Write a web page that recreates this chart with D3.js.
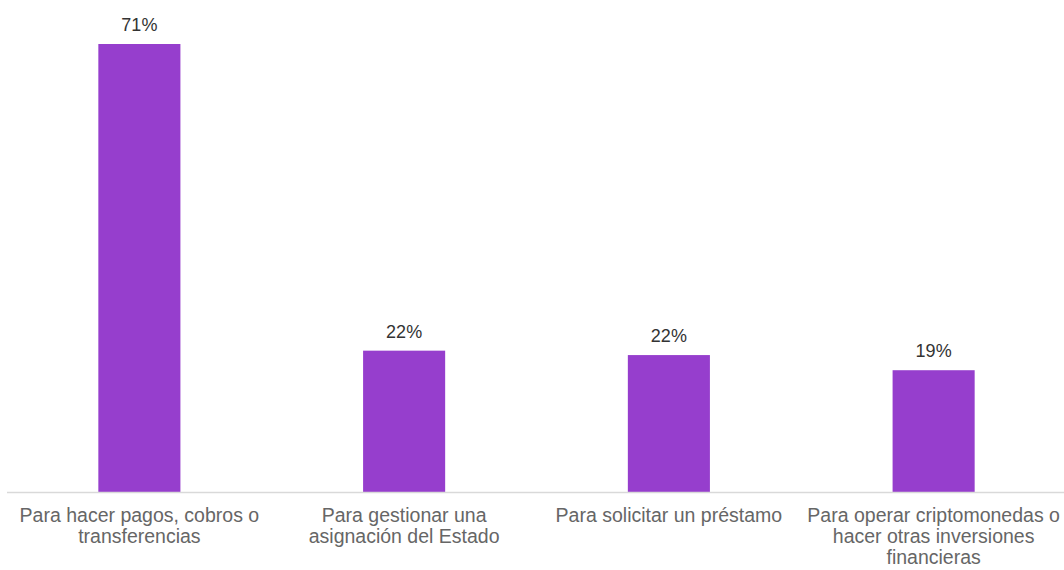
<!DOCTYPE html>
<html>
<head>
<meta charset="utf-8">
<script src="https://cdn.jsdelivr.net/npm/d3@7"></script>
<style>
  html, body { margin: 0; padding: 0; background: #fff; }
  svg { display: block; font-family: "Liberation Sans", Arial, Helvetica, sans-serif; }
</style>
</head>
<body>
<svg id="chart" width="1064" height="570"></svg>
<script>
// Usos declarados (porcentaje de encuestados)
const categories = [
  "Para hacer pagos, cobros o|transferencias",
  "Para gestionar una|asignación del Estado",
  "Para solicitar un préstamo",
  "Para operar criptomonedas o|hacer otras inversiones|financieras"
];
const values = [71, 22.4, 21.7, 19.3];

const width = 1064, height = 570;
const margin = { top: 44, right: -2, bottom: 78, left: 7 };
const baseY = height - margin.bottom;

const svg = d3.select("#chart");

const x = d3.scaleBand()
  .domain(categories)
  .range([margin.left, width - margin.right])
  .paddingInner(0.69)
  .paddingOuter(0.345);

const y = d3.scaleLinear()
  .domain([0, 71])
  .range([baseY, margin.top]);

// Barras
svg.append("g")
  .selectAll("rect")
  .data(values)
  .join("rect")
  .attr("x", (d, i) => x(categories[i]))
  .attr("y", d => y(d))
  .attr("width", x.bandwidth())
  .attr("height", d => y(0) - y(d))
  .attr("fill", "#963ecd");

// Línea base
svg.append("line")
  .attr("x1", margin.left)
  .attr("x2", width)
  .attr("y1", y(0) + 0.5)
  .attr("y2", y(0) + 0.5)
  .attr("stroke", "#d9d9d9")
  .attr("stroke-width", 1.5);

// Etiquetas de valor
svg.append("g")
  .selectAll("text")
  .data(values)
  .join("text")
  .attr("x", (d, i) => x(categories[i]) + x.bandwidth() / 2)
  .attr("y", d => y(d) - 13)
  .attr("text-anchor", "middle")
  .attr("font-size", 18)
  .attr("fill", "#333")
  .text(d => Math.round(d) + "%");

// Etiquetas de categoría (multilínea)
const cat = svg.append("g")
  .selectAll("text")
  .data(categories)
  .join("text")
  .attr("x", d => x(d) + x.bandwidth() / 2)
  .attr("y", baseY + 30)
  .attr("text-anchor", "middle")
  .attr("font-size", 19.5)
  .attr("fill", "#666");

cat.each(function(d) {
  const t = d3.select(this);
  d.split("|").forEach((line, i) => {
    t.append("tspan")
      .attr("x", x(d) + x.bandwidth() / 2)
      .attr("dy", i === 0 ? 0 : 21)
      .text(line);
  });
});
</script>
</body>
</html>
